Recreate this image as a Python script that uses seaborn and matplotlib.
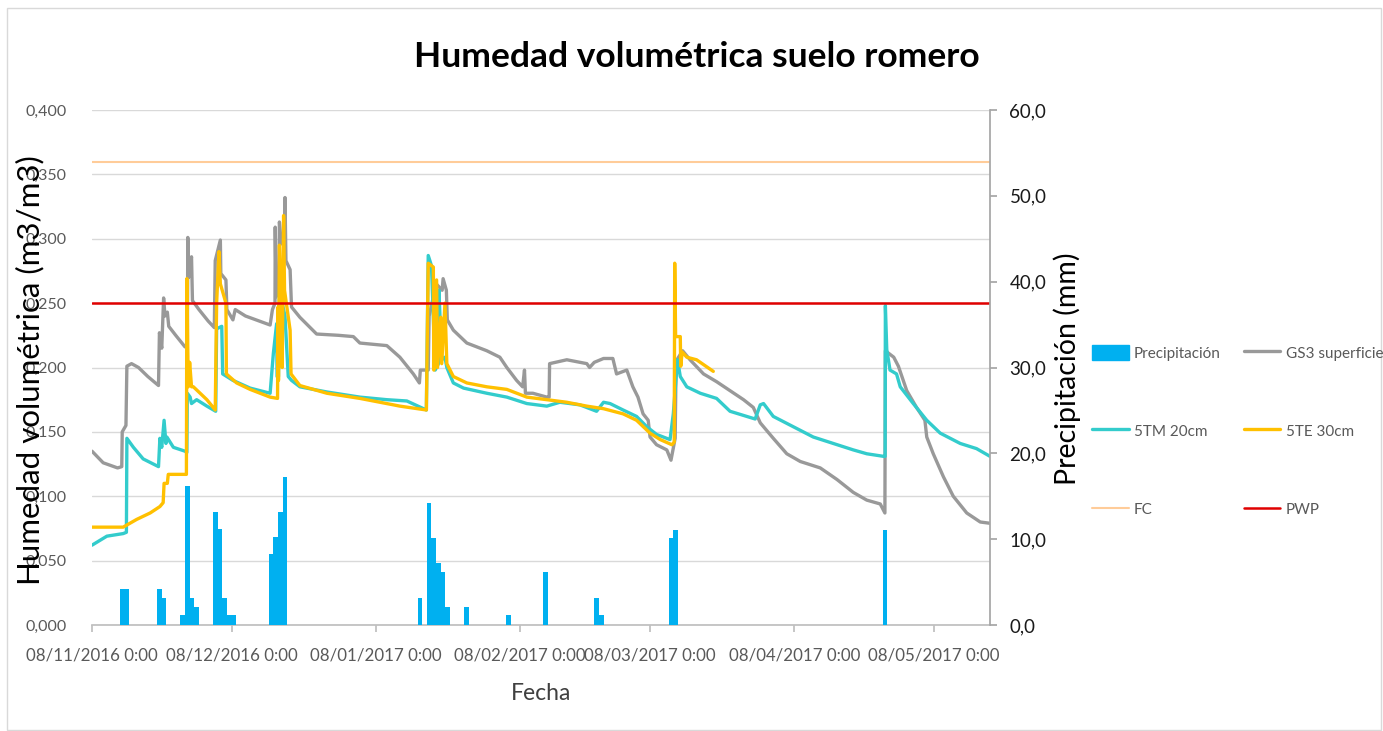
import pandas as pd
import matplotlib
matplotlib.use("Agg")
import matplotlib.pyplot as plt
import seaborn as sns
from matplotlib.patches import Patch, Rectangle
from matplotlib.lines import Line2D
from matplotlib.ticker import FuncFormatter, MultipleLocator

sns.set_theme(style="white")
plt.rcParams['font.family'] = ['Lato', 'DejaVu Sans']

# Fecha de inicio de la serie (días contados desde aquí)
inicio = pd.Timestamp('2016-11-08 00:00')

# Precipitación diaria (mm)
lluvia_dia = [6, 7, 14, 15, 19, 20, 21, 22, 26, 27, 28, 29, 30, 38, 39, 40, 41,
              70, 72, 73, 74, 75, 76, 80, 89, 97, 108, 109, 124, 125, 170]
lluvia_mm = [4.2, 4.2, 4.2, 3.1, 1.2, 16.2, 3.1, 2.1, 13.2, 11.2, 3.1, 1.2, 1.2, 8.3, 10.2, 13.2, 17.2,
             3.1, 14.2, 10.1, 7.2, 6.2, 2.1, 2.1, 1.2, 6.2, 3.1, 1.2, 10.1, 11.1, 11.1]

# GS3 superficie
gs3_dia = [0.0, 2.4, 5.5, 6.4, 6.5, 7.3, 7.5, 8.5, 10.0, 12.0, 14.3, 14.5, 15.0, 15.4, 15.7, 16.2,
           16.5, 18.0, 20.0, 20.5, 20.6, 20.8, 21.4, 21.6, 23.0, 25.0, 26.3, 26.5, 27.6, 27.7, 28.8,
           29.0, 30.3, 30.8, 33.0, 36.0, 38.3, 38.8, 39.35, 39.4, 39.6, 40.2, 40.3, 40.7, 41.4, 41.5,
           41.7, 42.6, 42.9, 44.7, 48.3, 53.0, 56.2, 57.6, 63.4, 66.2, 69.1, 70.4, 70.6, 71.9, 72.3,
           72.5, 74.0, 75.3, 75.5, 76.2, 76.4, 77.7, 80.6, 84.9, 87.7, 89.2, 91.3, 92.6, 93.0, 93.2,
           94.8, 97.8, 98.3, 98.4, 102.1, 106.4, 107.0, 108.0, 110.0, 112.0, 112.8, 115.0, 116.3,
           117.4, 118.5, 119.6, 120.0, 121.4, 123.6, 124.5, 125.4, 125.6, 127.0, 128.6, 131.5, 134.3,
           137.2, 140.1, 142.2, 143.7, 146.5, 149.4, 152.3, 156.6, 160.2, 163.7, 166.6, 169.5, 170.5,
           170.6, 172.4, 173.4, 175.2, 177.3, 179.1, 179.5, 180.9, 183.1, 185.2, 188.1, 191.0, 193.1]
gs3_val = [0.135, 0.126, 0.122, 0.123, 0.150, 0.155, 0.201, 0.203, 0.200, 0.193, 0.186, 0.227, 0.215,
           0.254, 0.240, 0.243, 0.232, 0.225, 0.216, 0.217, 0.301, 0.270, 0.286, 0.252, 0.245, 0.236,
           0.231, 0.283, 0.299, 0.273, 0.268, 0.245, 0.237, 0.245, 0.240, 0.236, 0.233, 0.245, 0.250,
           0.309, 0.255, 0.260, 0.313, 0.296, 0.300, 0.332, 0.283, 0.276, 0.247, 0.239, 0.226, 0.225,
           0.224, 0.219, 0.217, 0.208, 0.195, 0.188, 0.198, 0.198, 0.198, 0.240, 0.265, 0.260, 0.269,
           0.260, 0.237, 0.229, 0.219, 0.213, 0.208, 0.200, 0.190, 0.185, 0.198, 0.180, 0.180, 0.177,
           0.177, 0.203, 0.206, 0.203, 0.200, 0.204, 0.207, 0.207, 0.195, 0.198, 0.185, 0.177, 0.164,
           0.159, 0.146, 0.140, 0.136, 0.128, 0.145, 0.205, 0.213, 0.206, 0.195, 0.189, 0.182, 0.175,
           0.169, 0.157, 0.145, 0.133, 0.127, 0.122, 0.113, 0.103, 0.097, 0.094, 0.087, 0.213, 0.208,
           0.201, 0.182, 0.169, 0.159, 0.146, 0.133, 0.115, 0.100, 0.087, 0.080, 0.079]

# 5TM 20cm
tm_dia = [0.0, 3.2, 6.7, 7.4, 7.5, 8.9, 11.0, 14.3, 14.6, 15.0, 15.5, 15.9, 16.1, 17.5, 20.0, 20.4,
          20.5, 21.1, 21.4, 22.5, 24.7, 26.6, 26.8, 27.9, 28.1, 30.3, 34.0, 38.3, 39.0, 39.7, 39.8,
          40.1, 40.3, 41.5, 42.2, 42.9, 44.7, 50.5, 57.6, 63.4, 67.7, 71.9, 72.3, 73.0, 73.8, 74.5,
          74.6, 75.2, 75.9, 76.3, 77.7, 79.9, 84.9, 89.2, 93.5, 97.8, 100.6, 104.9, 108.5, 110.0,
          111.4, 114.2, 117.1, 119.3, 121.4, 124.3, 125.0, 125.9, 126.5, 127.9, 130.8, 134.3, 137.2,
          140.8, 142.6, 143.7, 144.4, 146.5, 150.8, 155.1, 159.4, 163.7, 166.6, 170.2, 170.55, 170.6,
          170.9, 171.6, 173.0, 173.8, 176.6, 179.5, 182.4, 186.7, 190.2, 193.1]
tm_val = [0.062, 0.069, 0.071, 0.072, 0.145, 0.138, 0.129, 0.123, 0.145, 0.138, 0.159, 0.141, 0.146,
          0.138, 0.135, 0.134, 0.180, 0.177, 0.172, 0.175, 0.170, 0.166, 0.230, 0.232, 0.195, 0.190,
          0.184, 0.180, 0.211, 0.234, 0.193, 0.193, 0.260, 0.240, 0.193, 0.190, 0.185, 0.181, 0.177,
          0.175, 0.174, 0.167, 0.287, 0.279, 0.198, 0.203, 0.260, 0.206, 0.208, 0.200, 0.188, 0.184,
          0.180, 0.177, 0.172, 0.170, 0.173, 0.171, 0.166, 0.173, 0.172, 0.167, 0.162, 0.154, 0.148,
          0.144, 0.164, 0.206, 0.193, 0.185, 0.180, 0.176, 0.166, 0.162, 0.160, 0.171, 0.172, 0.162,
          0.154, 0.146, 0.141, 0.136, 0.133, 0.131, 0.131, 0.248, 0.214, 0.198, 0.195, 0.185, 0.172,
          0.159, 0.149, 0.141, 0.137, 0.131]

# 5TE 30cm
te_dia = [0.0, 6.7, 9.6, 12.5, 14.6, 15.3, 15.5, 16.2, 16.4, 20.3, 20.4, 20.7, 21.0, 21.4, 21.8, 24.7,
          26.5, 26.8, 27.3, 27.6, 28.8, 28.9, 31.1, 34.0, 38.3, 39.9, 40.0, 40.1, 40.3, 40.6, 40.9,
          41.2, 41.4, 42.6, 42.8, 44.7, 50.5, 57.6, 64.8, 66.2, 71.9, 72.3, 73.4, 73.5, 74.1, 74.3,
          75.0, 75.2, 75.9, 76.3, 77.7, 80.6, 84.9, 89.2, 93.5, 97.8, 102.1, 106.4, 110.0, 114.2,
          117.1, 120.0, 122.2, 124.7, 125.2, 125.3, 125.5, 126.5, 126.6, 126.9, 127.9, 130.0, 133.6]
te_val = [0.076, 0.076, 0.082, 0.087, 0.092, 0.095, 0.110, 0.110, 0.117, 0.117, 0.269, 0.185, 0.204,
          0.185, 0.185, 0.175, 0.167, 0.250, 0.290, 0.265, 0.250, 0.195, 0.188, 0.183, 0.177, 0.176,
          0.247, 0.190, 0.295, 0.260, 0.200, 0.318, 0.260, 0.229, 0.195, 0.186, 0.180, 0.176, 0.171,
          0.170, 0.167, 0.281, 0.278, 0.198, 0.268, 0.200, 0.239, 0.203, 0.250, 0.203, 0.193, 0.188,
          0.185, 0.183, 0.177, 0.175, 0.173, 0.170, 0.168, 0.164, 0.159, 0.149, 0.144, 0.140, 0.142,
          0.281, 0.224, 0.224, 0.201, 0.212, 0.208, 0.206, 0.197]

# Umbrales
fc = 0.360
pwp = 0.250

# Colores tipo Excel
c_lluvia = '#00B0F0'
c_gs3 = '#999999'
c_tm = '#33CCCC'
c_te = '#FFC000'
c_fc = '#FFCC99'
c_pwp = '#E00000'


def a_fechas(dias):
    return inicio + pd.to_timedelta(pd.Series(dias), unit='D')


fig = plt.figure(figsize=(13.83, 7.31), dpi=100)
ax = fig.add_axes([92 / 1383, 1 - 625 / 731, (990 - 92) / 1383, (625 - 110) / 731])
ax2 = ax.twinx()

# Barras de precipitación (eje secundario)
ax2.bar(a_fechas(lluvia_dia), lluvia_mm, width=1, align='edge', color=c_lluvia, linewidth=0, zorder=2)

# Series de humedad
sns.lineplot(x=a_fechas(gs3_dia), y=gs3_val, ax=ax, color=c_gs3, linewidth=2.4,
             estimator=None, sort=False, zorder=3)
sns.lineplot(x=a_fechas(tm_dia), y=tm_val, ax=ax, color=c_tm, linewidth=2.4,
             estimator=None, sort=False, zorder=4)
sns.lineplot(x=a_fechas(te_dia), y=te_val, ax=ax, color=c_te, linewidth=2.4,
             estimator=None, sort=False, zorder=5)
ax.axhline(fc, color=c_fc, linewidth=1.5, zorder=6)
ax.axhline(pwp, color=c_pwp, linewidth=1.8, zorder=6)

fin = inicio + pd.Timedelta(days=193.1)
ax.set_xlim(inicio, fin)
ax.set_ylim(0, 0.4)
ax2.set_ylim(0, 60)

# Ticks del eje x
marcas = pd.to_datetime(['2016-11-08', '2016-12-08', '2017-01-08', '2017-02-08',
                         '2017-03-08', '2017-04-08', '2017-05-08'])
ax.set_xticks(marcas)
ax.set_xticklabels([m.strftime('%d/%m/%Y') + ' 0:00' for m in marcas])

ax.yaxis.set_major_locator(MultipleLocator(0.05))
ax.yaxis.set_major_formatter(FuncFormatter(lambda v, p: f'{v:.3f}'.replace('.', ',')))
ax2.yaxis.set_major_locator(MultipleLocator(10))
ax2.yaxis.set_major_formatter(FuncFormatter(lambda v, p: f'{v:.1f}'.replace('.', ',')))

ax.grid(axis='y', color='#d9d9d9', linewidth=1)
ax.grid(axis='x', visible=False)
ax.set_axisbelow(True)
ax.set_xlabel('')
ax.set_ylabel('')
ax2.set_ylabel('')

for sp in ['left', 'top', 'right']:
    ax.spines[sp].set_visible(False)
for sp in ['left', 'top', 'bottom']:
    ax2.spines[sp].set_visible(False)
ax.spines['bottom'].set_color('#bfbfbf')
ax2.spines['right'].set_color('#a6a6a6')

ax.tick_params(axis='x', bottom=True, length=5, color='#bfbfbf', pad=11, labelsize=12.2, labelcolor='#595959')
ax.tick_params(axis='y', left=False, pad=12, labelsize=11.5, labelcolor='#595959')
ax2.tick_params(axis='y', right=True, length=5, color='#a6a6a6', pad=9, labelsize=13.5, labelcolor='#1a1a1a')

# Títulos y etiquetas
fig.text(0.504, 0.922, 'Humedad volumétrica suelo romero', ha='center', va='center',
         fontsize=25.5, fontweight='bold', color='black')
fig.text(0.0217, 0.493, 'Humedad volumétrica (m3/m3)', rotation=90, ha='center', va='center',
         fontsize=22.5, color='black')
fig.text(0.772, 0.495, 'Precipitación (mm)', rotation=90, ha='center', va='center',
         fontsize=20.5, color='black')
fig.text(541 / 1383, 1 - 693 / 731, 'Fecha', ha='center', va='center', fontsize=16.5, color='#404040')

# Leyenda
handles = [
    Patch(color=c_lluvia, label='Precipitación'),
    Line2D([], [], color=c_tm, linewidth=2.4, label='5TM 20cm'),
    Line2D([], [], color=c_fc, linewidth=1.5, label='FC'),
    Line2D([], [], color=c_gs3, linewidth=2.4, label='GS3 superficie'),
    Line2D([], [], color=c_te, linewidth=2.4, label='5TE 30cm'),
    Line2D([], [], color=c_pwp, linewidth=1.8, label='PWP'),
]
fig.legend(handles=handles, ncol=2, loc='upper left', bbox_to_anchor=(1092 / 1383, 1 - 345 / 731),
           frameon=False, fontsize=11, labelcolor='#595959', borderpad=0, borderaxespad=0,
           handlelength=2.4, handletextpad=0.35, labelspacing=4.1, columnspacing=1.5,
           handleheight=1.1)

# Borde del área del gráfico
fig.patches.append(Rectangle((7 / 1383, 1 / 731), 1374 / 1383, 722 / 731, transform=fig.transFigure,
                             fill=False, edgecolor='#d9d9d9', linewidth=1))

fig.savefig('out.png', dpi=100)
